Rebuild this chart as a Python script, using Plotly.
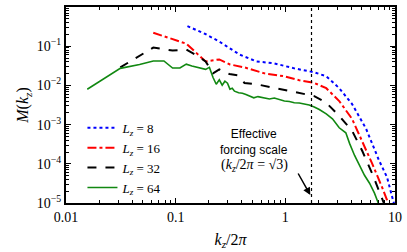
import numpy as np
import plotly.graph_objects as go

# ---- data ----
k8 = [0.128, 0.184, 0.25, 0.382, 0.545, 0.794, 1.207, 1.835, 2.36, 3.10, 4.06, 5.45, 7.15, 8.46, 9.59, 10.3]
m8 = [0.326, 0.208, 0.131, 0.0614, 0.0409, 0.0364, 0.0272, 0.0216, 0.0171, 0.0085, 0.00335, 7.83e-4, 1.22e-4, 4.54e-5, 1.19e-5, 6e-6]

k16 = [0.0625, 0.125, 0.1875, 0.25, 0.3125, 0.424, 0.644, 0.98, 1.34, 1.835, 2.36, 3.10, 4.06, 5.01, 6.18, 7.62, 8.46, 9.0]
m16 = [0.220, 0.116, 0.0409, 0.0459, 0.0343, 0.0288, 0.0203, 0.0171, 0.0135, 0.01156, 0.0085, 0.00399, 0.0014, 3.9e-4, 1.02e-4, 2.54e-5, 1.19e-5, 6e-6]

k32 = [0.03125, 0.0625, 0.09375, 0.125, 0.156, 0.1875, 0.219, 0.25, 0.309, 0.366, 0.424, 0.545, 0.794, 1.087, 1.427, 1.835, 2.36, 3.10, 4.06, 5.01, 6.18, 7.15, 7.97, 8.5]
m32 = [0.0288, 0.0922, 0.0774, 0.082, 0.0579, 0.0409, 0.0203, 0.0256, 0.0195, 0.0181, 0.01156, 0.0107, 0.00865, 0.00714, 0.006, 0.00534, 0.00362, 0.00167, 6.97e-4, 2.18e-4, 5.72e-5, 2.13e-5, 1.0e-5, 6e-6]

k64 = [0.015625, 0.03125, 0.046875, 0.0625, 0.078125, 0.09375, 0.109375, 0.125, 0.140625, 0.15625,
       0.171875, 0.1875, 0.203125, 0.21875, 0.234375, 0.25, 0.265625, 0.28125, 0.296875, 0.3125,
       0.328, 0.34375, 0.375, 0.40625, 0.4375, 0.46875, 0.5156, 0.5625, 0.644, 0.716,
       0.794, 0.881, 0.98, 1.087, 1.207, 1.34, 1.486, 1.65, 1.835, 2.04,
       2.36, 2.69, 3.10, 3.56, 3.86, 4.28, 4.75, 5.27, 5.86, 6.5, 7.15]
m64 = [0.0080, 0.0272, 0.0343, 0.0421, 0.0421, 0.0277, 0.0277, 0.0349, 0.0314, 0.0288,
       0.0277, 0.0256, 0.0288, 0.0161, 0.0107, 0.0139, 0.0101, 0.0128, 0.0114, 0.00802,
       0.0085, 0.00714, 0.00647, 0.0063, 0.00582, 0.00534, 0.00483, 0.00518, 0.00483, 0.00449,
       0.00475, 0.00435, 0.00399, 0.00389, 0.00362, 0.00356, 0.00335, 0.00316, 0.00281, 0.00243,
       0.00187, 0.0014, 8.3e-4, 6.2e-4, 3.27e-4, 1.63e-4, 9.1e-5, 5.1e-5, 3.2e-5, 1.79e-5, 8.9e-6]

forcing_k = np.sqrt(3)

xtick_vals = [0.01, 0.1, 1, 10]
xtick_text = ["0.01", "0.1", "1", "10"]
ytick_vals = [1e-5, 1e-4, 1e-3, 1e-2, 1e-1, 1]
ytick_text = ["10<sup>−5</sup>", "10<sup>−4</sup>", "10<sup>−3</sup>", "10<sup>−2</sup>", "10<sup>−1</sup>", "10<sup>0</sup>"]

serif = "Liberation Serif"
sans = "Liberation Sans"

fig = go.Figure()
series = [
    (k8, m8, "<i>L<sub>z</sub></i> = 8", "#0000ff", "dot", 2),
    (k16, m16, "<i>L<sub>z</sub></i> = 16", "#ff0000", "dashdot", 2),
    (k32, m32, "<i>L<sub>z</sub></i> = 32", "#000000", "dash", 2),
    (k64, m64, "<i>L<sub>z</sub></i> = 64", "#118811", "solid", 1.6),
]
for kx, my, name, col, dash, w in series:
    fig.add_trace(go.Scatter(x=kx, y=my, mode="lines", name=name,
                             line=dict(color=col, dash=dash, width=w)))

fig.add_shape(type="line", x0=forcing_k, x1=forcing_k, xref="x", y0=0, y1=1, yref="paper",
              line=dict(color="black", width=1.2, dash="3px,3px"))

minor_x = [m * 10.0 ** e for e in range(-2, 1) for m in range(2, 10)]
minor_y = [m * 10.0 ** e for e in range(-5, 0) for m in range(2, 10)]

axis_common = dict(type="log", showgrid=False, zeroline=False, showline=True, linecolor="black",
                   linewidth=2, mirror="ticks", ticks="inside", ticklen=5, tickwidth=1,
                   tickcolor="black", tickfont=dict(family=serif, size=14, color="black"))

fig.update_xaxes(range=[-2, 1], tickvals=xtick_vals, ticktext=xtick_text,
                 minor=dict(tickvals=minor_x, ticks="inside", ticklen=3, tickcolor="black"),
                 title=dict(text="<i>k<sub>z</sub></i>/2<i>π</i>", font=dict(family=serif, size=16, color="black"),
                            standoff=10),
                 **axis_common)
fig.update_yaxes(range=[-5, 0], tickvals=ytick_vals, ticktext=ytick_text,
                 minor=dict(tickvals=minor_y, ticks="inside", ticklen=3, tickcolor="black"),
                 title=dict(text="<i>M</i>(<i>k<sub>z</sub></i>)", font=dict(family=serif, size=16, color="black"),
                            standoff=4),
                 **axis_common)

# annotation text
fig.add_annotation(x=(255 - 66) / 330, y=(203 - 141) / 198, xref="paper", yref="paper",
                   xanchor="center", yanchor="middle",
                   text="Effective<br>forcing scale", showarrow=False,
                   font=dict(family=sans, size=12, color="black"))
fig.add_annotation(x=(255 - 66) / 330, y=(203 - 165) / 198, xref="paper", yref="paper",
                   xanchor="center", yanchor="middle",
                   text="(<i>k<sub>z</sub></i>/2<i>π</i> = √3)", showarrow=False,
                   font=dict(family=serif, size=14, color="black"))
fig.add_annotation(x=np.log10(1.69), y=np.log10(1.6e-5), xref="x", yref="y", text="",
                   showarrow=True, ax=-13, ay=-23, arrowhead=2, arrowsize=1, arrowwidth=1.5,
                   arrowcolor="black", standoff=0, startstandoff=0)

fig.update_layout(width=407, height=252, margin=dict(l=66, r=11, t=5, b=49),
                  plot_bgcolor="white", paper_bgcolor="white",
                  legend=dict(x=0.05, y=0.46, xanchor="left", yanchor="top",
                              bgcolor="rgba(0,0,0,0)", font=dict(family=serif, size=13, color="black"),
                              tracegroupgap=0, itemwidth=30))

fig.write_html("out.html", config={"displayModeBar": False},
               post_script="document.body.style.margin='0';document.body.style.padding='0';")
